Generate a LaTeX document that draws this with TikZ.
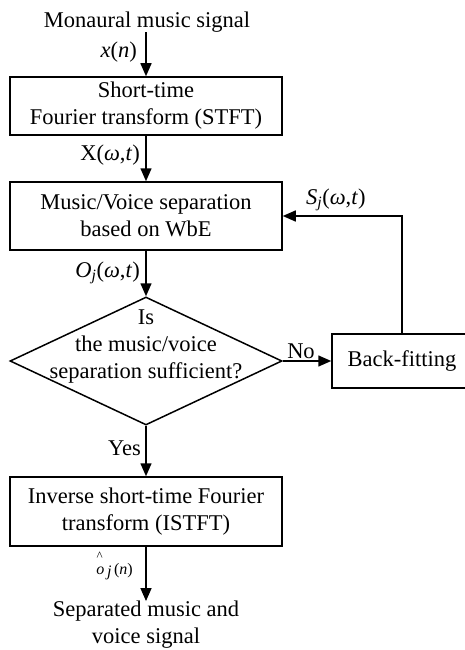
\documentclass[tikz,border=0pt]{standalone}
\usepackage{fontspec}
\setmainfont{Liberation Serif}
\usetikzlibrary{arrows.meta,shapes.geometric}
\begin{document}
\begin{tikzpicture}[x=1pt,y=-1pt,
  every node/.style={font=\fontsize{22.5}{27}\selectfont, inner sep=0pt},
  box/.style={draw, line width=1.5pt, minimum width=272pt, align=center},
  arr/.style={line width=1.5pt, -{Triangle[length=13pt,width=11pt]}}
]
\useasboundingbox (0,0) rectangle (465,650);
\node (in) at (147,22) {Monaural music signal};
\node[box, minimum height=58pt] (stft) at (146,106) {Short-time\\Fourier transform (STFT)};
\node[box, minimum height=68pt] (sep) at (146,216) {Music/Voice separation\\based on WbE};
\node[draw, diamond, line width=1.5pt, minimum width=272pt, minimum height=128pt, inner sep=0pt] (dec) at (146,361) {};
\node[align=center] (dtxt) at (146,347) {Is\\the music/voice\\separation sufficient?};
\node[box, minimum height=69pt] (istft) at (146,511.5) {Inverse short-time Fourier\\transform (ISTFT)};
\node[align=center] (out) at (146,625) {Separated music and\\voice signal};
\begin{scope}
\clip (0,0) rectangle (465,650);
\node[box, minimum width=140pt, minimum height=54pt] (bf) at (402,361) {Back-fitting};
\end{scope}
% labels
\node[anchor=east] (lx) at (137,52) {\textit{x}(\textit{n})};
\node[anchor=east] (lX) at (140,155) {X(\textit{ω},\textit{t})};
\node[anchor=east] (lO) at (140,273) {\textit{O}\textsubscript{\textit{j}}(\textit{ω},\textit{t})};
\node[anchor=west] (lS) at (306,200) {\textit{S}\textsubscript{\textit{j}}(\textit{ω},\textit{t})};
\node (lno) at (301,351) {No};
\node[anchor=east] (lyes) at (141,448) {Yes};
\node[anchor=east, font=\fontsize{16}{19}\selectfont] (lo) at (133,572) {\textit{o}\,\raisebox{-0.25ex}{\textit{j}}\,(\textit{n})};
\node[anchor=south, font=\fontsize{13}{15}\selectfont] (lhat) at ([xshift=3.5pt,yshift=2.5pt]lo.north west) {\textasciicircum};
% connectors
\draw[arr] (stft.north |- in.south) -- (stft.north);
\draw[arr] (stft.south) -- (sep.north);
\draw[arr] (sep.south) -- (dec.north);
\draw[arr] (dec.east) -- (bf.west);
\draw[arr] (bf.north) |- (sep.east);
\draw[arr] (dec.south) -- (istft.north);
\draw[arr] (istft.south) -- (out.north);
\end{tikzpicture}
\end{document}
